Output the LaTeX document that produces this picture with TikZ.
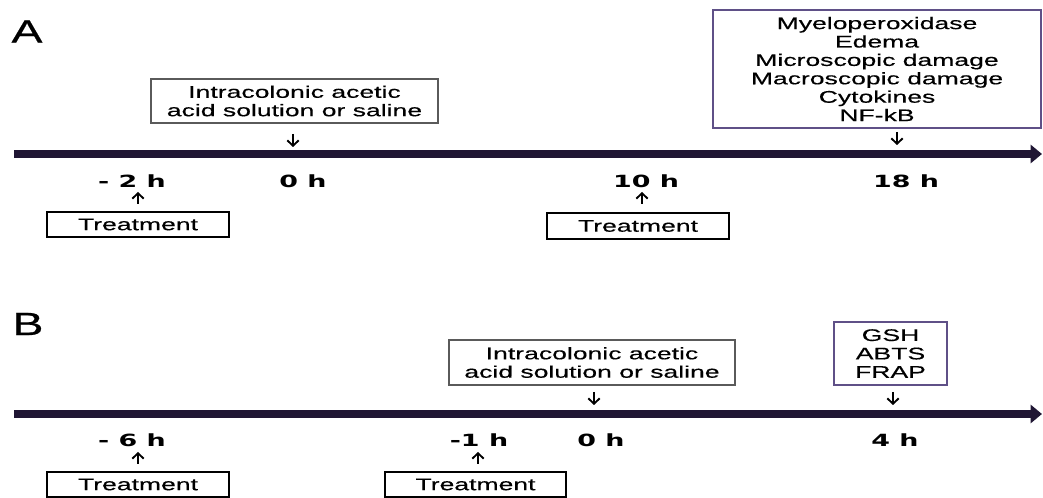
\documentclass[tikz,border=0pt]{standalone}
\usepackage{fontspec}
\setmainfont{Liberation Sans}
\newfontfamily\wfont[FakeStretch=1.58,FakeBold=0.4]{Liberation Sans}
\newfontfamily\tfont[FakeStretch=1.6]{DejaVu Sans Bold}
\newfontfamily\pfont[FakeStretch=1.45,FakeBold=0.6]{Liberation Sans}
\usetikzlibrary{arrows.meta}
\definecolor{tline}{RGB}{32,22,52}
\definecolor{pborder}{RGB}{95,80,135}
\definecolor{gborder}{RGB}{90,90,90}
\tikzset{
  x=0.75pt, y=-0.75pt,
  txt/.style={font=\wfont\fontsize{12.6pt}{13.8pt}\selectfont, align=center, inner sep=0pt},
  gbox/.style={txt, draw=gborder, line width=1.1pt},
  tbox/.style={txt, draw=black, line width=1.2pt},
  pbox/.style={txt, draw=pborder, line width=1.2pt},
  tlab/.style={font=\tfont\fontsize{12.6pt}{13.8pt}\selectfont, inner sep=0pt},
  plabel/.style={font=\pfont\fontsize{24pt}{26pt}\selectfont, inner sep=0pt},
  timeline/.style={line width=6pt, draw=tline, -{Triangle[length=8.5pt,width=13.5pt]}},
  sarr/.style={line width=1.4pt, -{Straight Barb[length=4pt,width=8.5pt]}},
}
\begin{document}
\begin{tikzpicture}
\useasboundingbox (0,0) rectangle (1043,498);
% Panel A
\node[plabel] (pa) at (27,31.5) {A};
\coordinate (ta0) at (14,154);
\coordinate (ta1) at (1042,154);
\draw[timeline] (ta0) -- (ta1);
\node[gbox, minimum width={287*0.75pt}, minimum height={44*0.75pt}] (a1) at (294.5,101) {Intracolonic acetic\\acid solution or saline};
\node[pbox, minimum width={328*0.75pt}, minimum height={118*0.75pt}] (a2) at (877,69) {Myeloperoxidase\\Edema\\Microscopic damage\\Macroscopic damage\\Cytokines\\NF-kB};
\node[tbox, minimum width={182*0.75pt}, minimum height={25*0.75pt}] (at1) at (138,224.5) {Treatment};
\node[tbox, minimum width={182*0.75pt}, minimum height={26*0.75pt}] (at2) at (638,226) {Treatment};
\node[tlab] (lm2) at (132,181) {- 2 h};
\node[tlab] (l0a) at (303,181) {0 h};
\node[tlab] (l10) at (646,181) {10 h};
\node[tlab] (l18) at (906,181) {18 h};
\coordinate (a1s) at (293,134); \coordinate (a1e) at (293,147);
\coordinate (a2s) at (897,132); \coordinate (a2e) at (897,145);
\coordinate (u1s) at (138,204); \coordinate (u1e) at (138,192);
\coordinate (u2s) at (642,204); \coordinate (u2e) at (642,192);
\draw[sarr] (a1s) -- (a1e);
\draw[sarr] (a2s) -- (a2e);
\draw[sarr] (u1s) -- (u1e);
\draw[sarr] (u2s) -- (u2e);
% Panel B
\node[plabel] (pb) at (28,324) {B};
\coordinate (tb0) at (14,414);
\coordinate (tb1) at (1042,414);
\draw[timeline] (tb0) -- (tb1);
\node[gbox, minimum width={286*0.75pt}, minimum height={45*0.75pt}] (b1) at (592,362.5) {Intracolonic acetic\\acid solution or saline};
\node[pbox, minimum width={113*0.75pt}, minimum height={63*0.75pt}] (b2) at (890.5,353.5) {GSH\\ABTS\\FRAP};
\node[tbox, minimum width={182*0.75pt}, minimum height={25*0.75pt}] (bt1) at (138,484.5) {Treatment};
\node[tbox, minimum width={181*0.75pt}, minimum height={25*0.75pt}] (bt2) at (475.5,484.5) {Treatment};
\node[tlab] (lm6) at (132,440) {- 6 h};
\node[tlab] (lm1) at (479,440) {-1 h};
\node[tlab] (l0b) at (601,440) {0 h};
\node[tlab] (l4) at (895,440) {4 h};
\coordinate (b1s) at (594,392); \coordinate (b1e) at (594,405);
\coordinate (b2s) at (893,392); \coordinate (b2e) at (893,405);
\coordinate (v1s) at (138,464); \coordinate (v1e) at (138,452);
\coordinate (v2s) at (478,464); \coordinate (v2e) at (478,452);
\draw[sarr] (b1s) -- (b1e);
\draw[sarr] (b2s) -- (b2e);
\draw[sarr] (v1s) -- (v1e);
\draw[sarr] (v2s) -- (v2e);
\end{tikzpicture}
\end{document}
